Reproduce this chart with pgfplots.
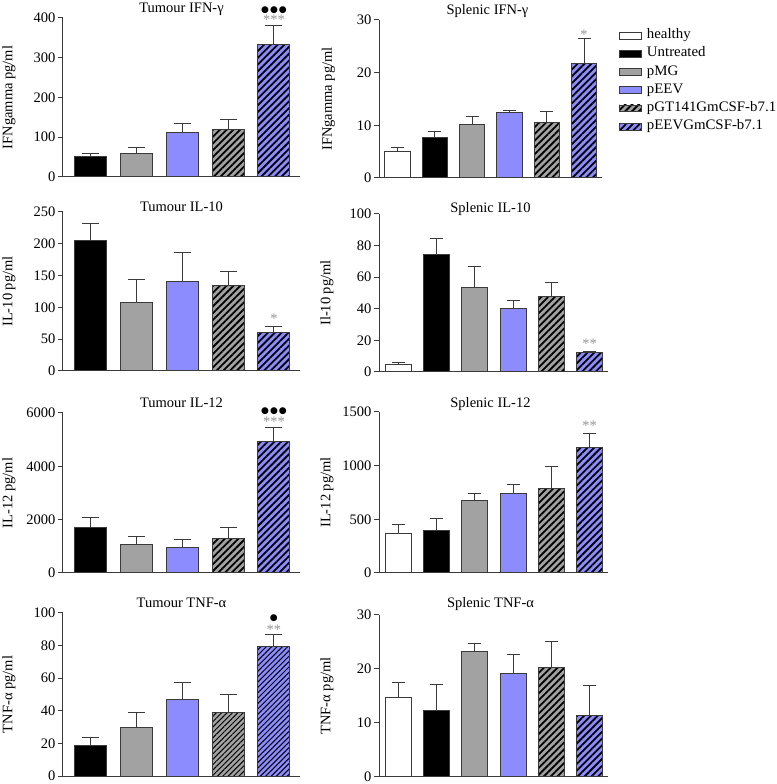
\documentclass[border=0pt]{standalone}
\usepackage{pgfplots}
\pgfplotsset{compat=1.18}
\usepackage{fontspec}
\setmainfont{Liberation Serif}
\newfontfamily\dejavu{DejaVu Sans}
\newfontfamily\legfont[FakeStretch=1.025]{Liberation Serif}
\usetikzlibrary{patterns.meta}
\definecolor{axcol}{HTML}{3A3A3A}
\definecolor{barblue}{HTML}{8C8CFF}
\definecolor{bargray}{HTML}{A2A2A2}
\definecolor{stargray}{HTML}{959595}
\newcommand{\fs}{\fontsize{14.5}{17}\selectfont}

\pgfplotsset{
  panel/.style={
    scale only axis,
    font=\fs,
    ybar, bar shift=0pt,
    axis lines=left,
    axis line style={-, draw=axcol, line width=1pt},
    ymin=0,
    xtick=\empty,
    ytick pos=left,
    tick align=outside,
    major tick length=5pt,
    tick style={draw=axcol, line width=1pt},
    /pgf/number format/assume math mode=true,
    /pgf/number format/set thousands separator={},
    scaled y ticks=false,
    yticklabel style={inner sep=2.5pt, font=\fs},
    every axis title shift=0pt,
    title style={at={(0.5,1)}, anchor=base, font=\fs},
    label style={font=\fs},
    legend style={font=\legfont\fs},
    clip=false,
    every axis plot/.append style={draw=axcol, line width=1pt},
    error bars/y dir=plus,
    error bars/y explicit,
    error bars/error bar style={line width=1pt, draw=axcol},
    legend image code/.code={\draw[#1, line width=0.8pt] (0pt,-3.4pt) rectangle (22pt,3.4pt);},
  },
  tumour/.style={panel, width=237pt, xmin=-0.61, xmax=4.57, bar width=0.7,
    ylabel style={at={(axis description cs:-0.228,0.5)}, anchor=center},
    error bars/error mark options={rotate=90, mark size=8.5pt, line width=1pt, draw=axcol}},
  splenic/.style={panel, xmin=-0.5, xmax=5.48, bar width=0.68,
    ylabel style={at={(axis description cs:-0.227,0.5)}, anchor=center},
    title style={xshift=-3pt},
    error bars/error mark options={rotate=90, mark size=6.5pt, line width=1pt, draw=axcol}},
  s healthy/.style={fill=white},
  s untr/.style={fill=black},
  s pmg/.style={fill=bargray},
  s peev/.style={fill=barblue},
  s pgt/.style={fill=bargray, postaction={pattern={Lines[angle=45,distance=4.8pt,line width=1.8pt]}, pattern color=black}},
  s pgm/.style={fill=barblue, postaction={pattern={Lines[angle=45,distance=4.8pt,line width=1.8pt]}, pattern color=black}},
  s pgtthin/.style={fill=bargray, postaction={pattern={Lines[angle=45,distance=3.8pt,line width=1pt]}, pattern color=black}},
  s pgmthin/.style={fill=barblue, postaction={pattern={Lines[angle=45,distance=3.8pt,line width=1pt]}, pattern color=black}},
}
\newcommand{\sigstars}[1]{{\fs\textcolor{stargray}{#1}}}
\newcommand{\sigdots}[1]{{\dejavu\fontsize{9}{9}\selectfont #1}}

\begin{document}
\fs
\begin{tikzpicture}[font=\fs]
\useasboundingbox (0,0) rectangle (776pt,784pt);

% ---------- Row 1 ----------
\begin{axis}[tumour, at={(63pt,607pt)}, anchor=south west, height=159pt,
  ymax=400, ytick={0,100,200,300,400},
  title={Tumour IFN-γ}, title style={yshift=5pt}, ylabel={IFNgamma pg/ml}]
\addplot[s untr] coordinates {(0,51) +- (0,7)};
\addplot[s pmg] coordinates {(1,60) +- (0,13)};
\addplot[s peev] coordinates {(2,112) +- (0,23)};
\addplot[s pgt] coordinates {(3,119) +- (0,26)};
\addplot[s pgm] coordinates {(4,334) +- (0,47)};
\node[inner sep=0pt, yshift=-1.8pt] at (axis cs:4,400) {\sigstars{***}};
\node[inner sep=0pt] at (axis cs:4,420) {\sigdots{●\kern1pt●\kern1pt●}};
\end{axis}

\begin{axis}[splenic, at={(379pt,606pt)}, anchor=south west, width=223pt, height=158pt,
  ymax=30, ytick={0,10,20,30},
  title={Splenic IFN-γ}, title style={yshift=5pt}, ylabel={IFNgamma pg/ml},
  legend style={at={(axis description cs:1.076,0.952)}, anchor=north west, draw=none, fill=none,
    inner sep=0pt, row sep=2.7pt, column sep=4pt,
    nodes={inner sep=1pt, text height=10pt, text depth=3.5pt}},
  legend cell align=left]
\addplot[s healthy] coordinates {(0,5.0) +- (0,0.8)};
\addplot[s untr] coordinates {(1,7.7) +- (0,1.1)};
\addplot[s pmg] coordinates {(2,10.1) +- (0,1.6)};
\addplot[s peev] coordinates {(3,12.4) +- (0,0.4)};
\addplot[s pgt] coordinates {(4,10.6) +- (0,2.1)};
\addplot[s pgm] coordinates {(5,21.7) +- (0,4.8)};
\legend{healthy, Untreated, pMG, pEEV, pGT141GmCSF-b7.1, pEEVGmCSF-b7.1}
\node[inner sep=0pt, yshift=-1.8pt] at (axis cs:5,27.5) {\sigstars{*}};
\end{axis}

% ---------- Row 2 ----------
\begin{axis}[tumour, at={(63pt,413pt)}, anchor=south west, height=159pt,
  ymax=250, ytick={0,50,100,150,200,250},
  title={Tumour IL-10}, title style={yshift=0pt}, ylabel={IL-10 pg/ml}]
\addplot[s untr] coordinates {(0,204.5) +- (0,28)};
\addplot[s pmg] coordinates {(1,107) +- (0,37)};
\addplot[s peev] coordinates {(2,140) +- (0,46)};
\addplot[s pgt] coordinates {(3,135) +- (0,21)};
\addplot[s pgm] coordinates {(4,61) +- (0,9)};
\node[inner sep=0pt, yshift=-1.8pt] at (axis cs:4,85.4) {\sigstars{*}};
\end{axis}

\begin{axis}[splenic, at={(379pt,412pt)}, anchor=south west, width=229pt, height=158pt,
  ymax=100, ytick={0,20,40,60,80,100},
  title={Splenic IL-10}, title style={yshift=1pt}, ylabel={Il-10 pg/ml}]
\addplot[s healthy] coordinates {(0,4.7) +- (0,1.4)};
\addplot[s untr] coordinates {(1,74.6) +- (0,9.8)};
\addplot[s pmg] coordinates {(2,53.5) +- (0,13.3)};
\addplot[s peev] coordinates {(3,40.2) +- (0,5.3)};
\addplot[s pgt] coordinates {(4,47.6) +- (0,9.1)};
\addplot[s pgm] coordinates {(5,12.3) +- (0,0.4)};
\node[inner sep=0pt, yshift=-1.8pt] at (axis cs:5,19.2) {\sigstars{**}};
\end{axis}

% ---------- Row 3 ----------
\begin{axis}[tumour, at={(63pt,211pt)}, anchor=south west, height=160pt,
  ymax=6000, ytick={0,2000,4000,6000},
  title={Tumour IL-12}, title style={yshift=5pt}, ylabel={IL-12 pg/ml}]
\addplot[s untr] coordinates {(0,1707) +- (0,364)};
\addplot[s pmg] coordinates {(1,1080) +- (0,276)};
\addplot[s peev] coordinates {(2,967) +- (0,301)};
\addplot[s pgt] coordinates {(3,1293) +- (0,427)};
\addplot[s pgm] coordinates {(4,4933) +- (0,540)};
\node[inner sep=0pt, yshift=-1.8pt] at (axis cs:4,5737) {\sigstars{***}};
\node[inner sep=0pt] at (axis cs:4,6075) {\sigdots{●\kern1pt●\kern1pt●}};
\end{axis}

\begin{axis}[splenic, at={(379pt,211pt)}, anchor=south west, width=229pt, height=161pt,
  ymax=1500, ytick={0,500,1000,1500},
  title={Splenic IL-12}, title style={yshift=4.3pt}, ylabel={IL-12 pg/ml}]
\addplot[s healthy] coordinates {(0,370) +- (0,80)};
\addplot[s untr] coordinates {(1,394) +- (0,112)};
\addplot[s pmg] coordinates {(2,674) +- (0,62)};
\addplot[s peev] coordinates {(3,736) +- (0,93)};
\addplot[s pgt] coordinates {(4,783) +- (0,205)};
\addplot[s pgm] coordinates {(5,1165) +- (0,130)};
\node[inner sep=0pt, yshift=-1.8pt] at (axis cs:5,1385) {\sigstars{**}};
\end{axis}

% ---------- Row 4 ----------
\begin{axis}[tumour, at={(63pt,8pt)}, anchor=south west, height=163pt,
  ymax=100, ytick={0,20,40,60,80,100},
  title={Tumour TNF-α}, title style={yshift=5pt}, ylabel={TNF-α pg/ml}]
\addplot[s untr] coordinates {(0,18.6) +- (0,4.9)};
\addplot[s pmg] coordinates {(1,30.0) +- (0,8.8)};
\addplot[s peev] coordinates {(2,47.1) +- (0,10.5)};
\addplot[s pgtthin] coordinates {(3,39.2) +- (0,11)};
\addplot[s pgmthin] coordinates {(4,79.6) +- (0,7.1)};
\node[inner sep=0pt, yshift=-1.8pt] at (axis cs:4,90.6) {\sigstars{**}};
\node[inner sep=0pt] at (axis cs:4,96.7) {\sigdots{●}};
\end{axis}

\begin{axis}[splenic, at={(379pt,7pt)}, anchor=south west, width=229pt, height=162pt,
  ymax=30, ytick={0,10,20,30},
  title={Splenic TNF-α}, title style={yshift=7pt}, ylabel={TNF-α pg/ml}]
\addplot[s healthy] coordinates {(0,14.8) +- (0,2.7)};
\addplot[s untr] coordinates {(1,12.4) +- (0,4.7)};
\addplot[s pmg] coordinates {(2,23.2) +- (0,1.5)};
\addplot[s peev] coordinates {(3,19.1) +- (0,3.6)};
\addplot[s pgt] coordinates {(4,20.2) +- (0,4.9)};
\addplot[s pgm] coordinates {(5,11.4) +- (0,5.6)};
\end{axis}
\end{tikzpicture}
\end{document}
